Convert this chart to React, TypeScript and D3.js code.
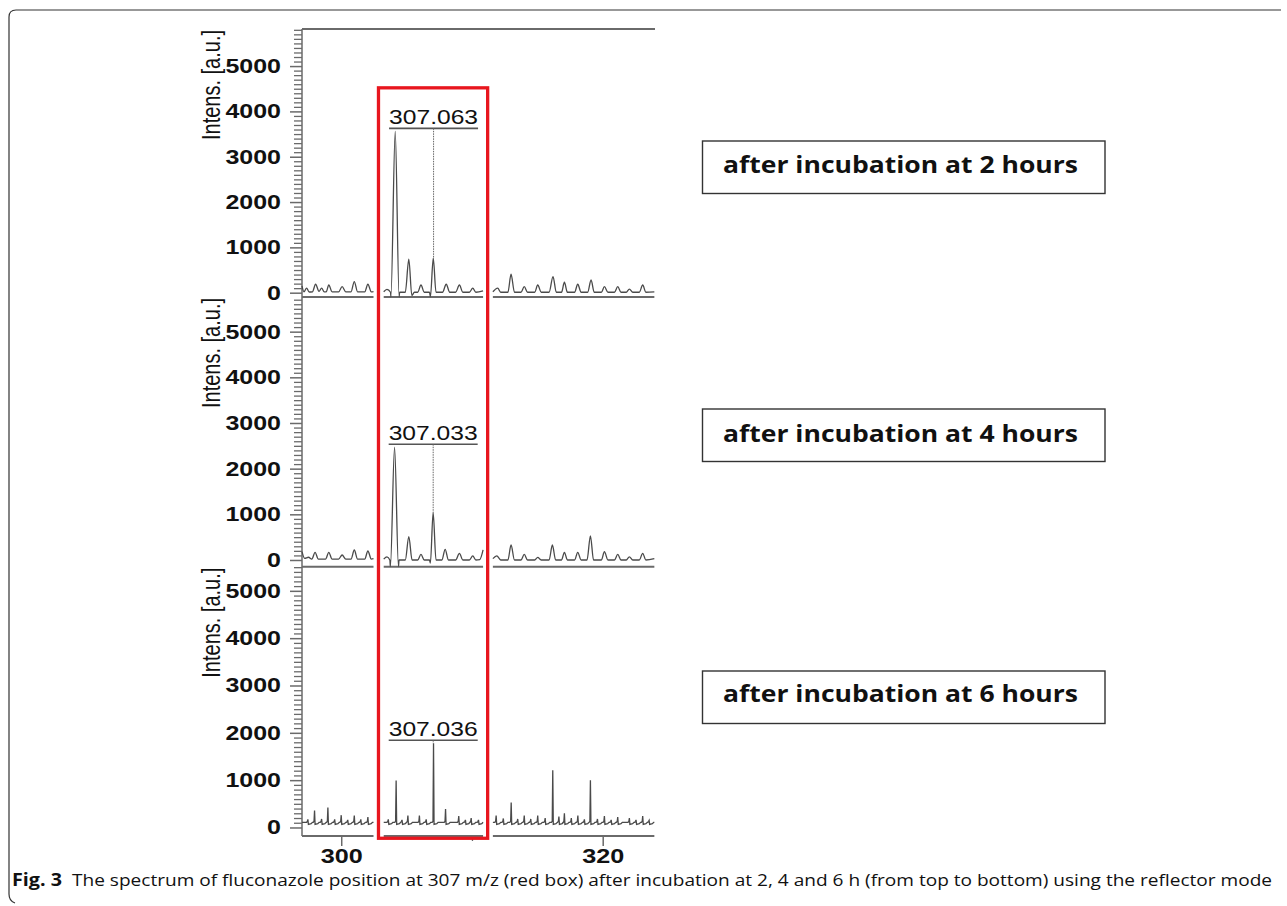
import * as d3 from 'd3'
import React, { useRef, useEffect } from 'react'

// m/z axis
const mzDomain = [297, 324]
const mzTicks = [300, 320]
const mzMinorTicks = [310]
const intensTicks = [0, 1000, 2000, 3000, 4000, 5000]

// the spectrum is cut in three pieces around the red box
const sections = [[297, 302.47], [303.25, 310.85], [311.6, 323.95]]
const boxMz = [302.85, 311.2]

const peakLabels = ['307.063', '307.033', '307.036']
const panelTitles = ['after incubation at 2 hours', 'after incubation at 4 hours', 'after incubation at 6 hours']

// 2 h spectrum, [m/z, intensity]
const spec2h = [
  [297.0, 150], [297.15, 20], [297.35, 100], [297.55, 15], [297.8, 20], [298.04, 186], [298.3, 30], [298.5, 100], [298.7, 20],
  [298.85, 20], [299.05, 170], [299.3, 20], [299.8, 20], [300.07, 133], [300.35, 20], [300.75, 20], [301.0, 243], [301.25, 20],
  [301.8, 20], [302.04, 186], [302.3, 20], [302.47, 25],
  [303.25, 20], [303.5, 75], [303.77, 10], [303.8, -90], [304.13, 3560], [304.43, -90], [304.47, 10], [304.9, 10], [305.17, 740],
  [305.4, -60], [305.6, 10], [305.85, 10], [306.1, 170], [306.35, 10], [306.75, 10], [306.82, -90], [307.04, 760], [307.25, 10],
  [307.75, 10], [308.03, 186], [308.3, 10], [308.75, 10], [309.04, 170], [309.3, 10], [309.8, 10], [310.06, 100], [310.3, 10], [310.85, 40],
  [311.6, 20], [311.97, 100], [312.2, 10], [312.75, 10], [312.99, 407], [313.25, 10], [313.75, 10], [314.0, 133], [314.25, 10],
  [314.8, 10], [315.03, 170], [315.3, 10], [315.9, 10], [316.2, 354], [316.45, 10], [316.85, 10], [317.07, 230], [317.3, 10],
  [317.85, 10], [318.09, 186], [318.35, 10], [318.85, 10], [319.11, 280], [319.35, 10], [319.9, 10], [320.13, 133], [320.4, 10],
  [320.9, 10], [321.15, 133], [321.4, 10], [321.8, 10], [322.04, 80], [322.3, 10], [322.8, 10], [323.06, 170], [323.3, 10], [323.95, 20],
]

// 4 h spectrum
const spec4h = [
  [297.0, 182], [297.2, 36], [297.5, 60], [297.75, 20], [298.0, 168], [298.25, 20], [298.8, 20], [299.05, 168], [299.3, 20],
  [299.8, 20], [300.07, 109], [300.35, 20], [300.75, 20], [301.0, 219], [301.25, 20], [301.8, 20], [302.04, 197], [302.3, 20], [302.47, 30],
  [303.25, 20], [303.5, 70], [303.72, 0], [303.76, -146], [304.08, 2470], [304.38, -146], [304.42, 0], [304.9, 0], [305.17, 510],
  [305.42, 0], [305.85, 0], [306.1, 124], [306.35, 0], [306.75, 0], [306.82, -70], [307.03, 1040], [307.25, 0], [307.7, 0],
  [307.95, 233], [308.2, 0], [308.75, 0], [309.04, 146], [309.3, 0], [309.8, 0], [310.06, 88], [310.3, 0], [310.6, 10], [310.85, 220],
  [311.6, 30], [311.9, 90], [312.2, 0], [312.75, 0], [312.99, 328], [313.25, 0], [313.75, 0], [314.0, 124], [314.25, 0], [314.8, 0],
  [315.03, 56], [315.3, 0], [315.9, 0], [316.15, 328], [316.4, 0], [316.85, 0], [317.07, 168], [317.3, 0], [317.85, 0], [318.09, 168],
  [318.35, 0], [318.8, 0], [319.06, 530], [319.3, 0], [319.9, 0], [320.13, 182], [320.4, 0], [320.9, 0], [321.15, 124], [321.4, 0],
  [321.8, 0], [322.04, 70], [322.3, 0], [322.8, 0], [323.06, 146], [323.3, 0], [323.95, 30],
]

// 6 h spectrum is all sharp spikes: [m/z, height] on a noise floor
const floor6h = 110
const spec6hPeaks = [
  [297.45, 170], [297.96, 360], [298.5, 180], [298.98, 420], [299.5, 170], [300.0, 260], [300.5, 160], [301.0, 254], [301.5, 170], [302.04, 218],
  [303.6, 170], [304.2, 990], [304.65, 160], [305.1, 250], [305.98, 250], [306.5, 170], [307.06, 1780], [307.98, 390], [308.99, 240],
  [309.5, 160], [309.94, 200], [310.5, 160],
  [311.85, 254], [312.4, 190], [313.0, 530], [313.5, 180], [314.0, 254], [314.5, 180], [315.03, 254], [315.6, 200], [316.18, 1210],
  [316.65, 230], [317.07, 300], [317.6, 200], [318.1, 254], [318.6, 170], [319.06, 1000], [319.6, 180], [320.13, 240], [320.65, 160],
  [321.15, 218], [322.04, 200], [322.55, 160], [323.06, 240], [323.55, 150],
]

const W = 1287
const H = 906

// layout of the three stacked panels (pixels) and their intensity ranges
const panels = [
  { top: 29, bottom: 297, domain: [-95, 5818], titleY: 173, boxTop: 141 },
  { top: 297, bottom: 566.7, domain: [-147, 5759], titleY: 442, boxTop: 409 },
  { top: 566.7, bottom: 836, domain: [-180, 5510], titleY: 702, boxTop: 671 },
]

// sharp spike outline for the 6 h trace
const spikeLine = (peaks, [a, b], floor) => {
  const pts = [[a, floor]]
  peaks.filter(p => p[0] > a && p[0] < b).forEach(([m, h]) => {
    pts.push([m - 0.1, floor], [m - 0.04, floor + 20], [m, h], [m + 0.04, floor - 45], [m + 0.25, floor - 30], [m + 0.35, floor])
  })
  pts.push([b, floor])
  return pts
}

export default function App() {
  const svgRef = useRef(null)

  useEffect(() => {
    const svg = d3.select(svgRef.current)
    svg.selectAll('*').remove()

    const axisColor = '#6a6a6a'
    const x = d3.scaleLinear().domain(mzDomain).range([302, 655])

    // outer figure frame (top + left, rounded)
    svg.append('path')
      .attr('d', 'M 15 903 Q 9 901 9 894 V 17 Q 9 10 16 10 H 1281')
      .attr('fill', 'none')
      .attr('stroke', '#333')
      .attr('stroke-width', 1.2)

    const ys = panels.map(p => d3.scaleLinear().domain(p.domain).range([p.bottom, p.top]))
    const traces = [
      sections.map(([a, b]) => spec2h.filter(d => d[0] >= a && d[0] <= b)),
      sections.map(([a, b]) => spec4h.filter(d => d[0] >= a && d[0] <= b)),
      sections.map(s => spikeLine(spec6hPeaks, s, floor6h)),
    ]

    // panel 1 top frame line
    svg.append('line')
      .attr('x1', x(mzDomain[0])).attr('x2', x(mzDomain[1]))
      .attr('y1', panels[0].top).attr('y2', panels[0].top)
      .attr('stroke', axisColor).attr('stroke-width', 2)

    // y axis line
    svg.append('line')
      .attr('x1', x(mzDomain[0])).attr('x2', x(mzDomain[0]))
      .attr('y1', panels[0].top).attr('y2', panels[2].bottom)
      .attr('stroke', axisColor).attr('stroke-width', 1.5)

    panels.forEach((p, i) => {
      const y = ys[i]
      const g = svg.append('g')

      // minor ticks every 100
      const minor = d3.range(0, p.domain[1], 100).filter(v => v % 1000 !== 0)
      g.append('g')
        .attr('transform', `translate(${x(mzDomain[0])},0)`)
        .call(d3.axisLeft(y).tickValues(minor).tickSize(8).tickFormat(() => ''))
        .call(a => a.select('.domain').remove())
        .call(a => a.selectAll('line').attr('stroke', axisColor).attr('stroke-width', 1.3))

      g.append('g')
        .attr('transform', `translate(${x(mzDomain[0])},0)`)
        .call(d3.axisLeft(y).tickValues(intensTicks).tickSize(12).tickPadding(9).tickFormat(d3.format('d')))
        .call(a => a.select('.domain').remove())
        .call(a => a.selectAll('line').attr('stroke', axisColor).attr('stroke-width', 1.5))
        .call(a => a.selectAll('text')
          .attr('fill', '#111')
          .style('font-family', '"Liberation Sans", Arial, sans-serif')
          .style('font-size', '20px')
          .style('font-weight', 'bold')
          .attr('textLength', d => String(d).length * 13.9)
          .attr('lengthAdjust', 'spacingAndGlyphs'))

      // axis title, rotated and stretched like the scan
      g.append('text')
        .attr('transform', `translate(220,${p.top + 1}) scale(1.25,1) rotate(-90)`)
        .attr('text-anchor', 'end')
        .style('font-family', '"Liberation Sans", Arial, sans-serif')
        .style('font-size', '20px')
        .attr('fill', '#111')
        .text('Intens. [a.u.]')

      // broken baseline under each panel
      g.selectAll('line.base')
        .data(sections)
        .join('line')
        .attr('class', 'base')
        .attr('x1', d => x(d[0])).attr('x2', d => x(d[1]))
        .attr('y1', p.bottom).attr('y2', p.bottom)
        .attr('stroke', axisColor).attr('stroke-width', 2)

      // spectrum trace
      const line = d3.line()
        .x(d => x(d[0]))
        .y(d => y(d[1]))
        .curve(i < 2 ? d3.curveMonotoneX : d3.curveLinear)
      g.selectAll('path.trace')
        .data(traces[i])
        .join('path')
        .attr('class', 'trace')
        .attr('d', line)
        .attr('fill', 'none')
        .attr('stroke', '#4a4a4a')
        .attr('stroke-width', 1.3)

      // peak annotation
      const pts = traces[i].flat()
      const inBox = pts.filter(d => d[0] > boxMz[0] && d[0] < boxMz[1])
      const topVal = d3.max(inBox, d => d[1])
      const mz = +peakLabels[i]
      const labelledTop = d3.max(pts.filter(d => Math.abs(d[0] - mz) < 0.15), d => d[1])
      const uy = y(topVal) - 3
      const cx = x(mz)
      g.append('line')
        .attr('x1', cx - 44.5).attr('x2', cx + 44.5)
        .attr('y1', uy).attr('y2', uy)
        .attr('stroke', '#555').attr('stroke-width', 1.6)
      g.append('line')
        .attr('x1', cx).attr('x2', cx)
        .attr('y1', uy).attr('y2', y(labelledTop))
        .attr('stroke', '#666').attr('stroke-width', 1)
        .attr('stroke-dasharray', '1.5,1')
      g.append('text')
        .attr('x', cx).attr('y', uy - 4)
        .attr('text-anchor', 'middle')
        .style('font-family', '"Liberation Sans", Arial, sans-serif')
        .style('font-size', '21px')
        .attr('fill', '#111')
        .attr('textLength', 89)
        .attr('lengthAdjust', 'spacingAndGlyphs')
        .text(peakLabels[i])

      // boxed panel title on the right
      g.append('rect')
        .attr('x', 702.5).attr('y', p.boxTop)
        .attr('width', 402.5).attr('height', 52.5)
        .attr('fill', 'none')
        .attr('stroke', '#333').attr('stroke-width', 1.4)
      g.append('text')
        .attr('x', 723).attr('y', p.titleY)
        .style('font-family', '"Open Sans", "DejaVu Sans", sans-serif')
        .style('font-size', '24px')
        .style('font-weight', 'bold')
        .attr('fill', '#111')
        .attr('textLength', 355)
        .attr('lengthAdjust', 'spacingAndGlyphs')
        .text(panelTitles[i])
    })

    // x axis ticks and labels at the bottom
    const xb = panels[2].bottom
    svg.append('g')
      .attr('transform', `translate(0,${xb})`)
      .call(d3.axisBottom(x).tickValues(mzMinorTicks).tickSize(5).tickFormat(() => ''))
      .call(a => a.select('.domain').remove())
      .call(a => a.selectAll('line').attr('stroke', axisColor).attr('stroke-width', 1.3))
    svg.append('g')
      .attr('transform', `translate(0,${xb})`)
      .call(d3.axisBottom(x).tickValues(mzTicks).tickSize(10).tickPadding(3).tickFormat(d3.format('d')))
      .call(a => a.select('.domain').remove())
      .call(a => a.selectAll('line').attr('stroke', axisColor).attr('stroke-width', 1.5))
      .call(a => a.selectAll('text')
        .attr('fill', '#111')
        .style('font-family', '"Liberation Sans", Arial, sans-serif')
        .style('font-size', '20px')
        .style('font-weight', 'bold')
        .attr('textLength', 42)
        .attr('lengthAdjust', 'spacingAndGlyphs'))

    // red box around the fluconazole peak
    svg.append('rect')
      .attr('x', x(boxMz[0]))
      .attr('y', ys[0](4520))
      .attr('width', x(boxMz[1]) - x(boxMz[0]))
      .attr('height', ys[2](-228) - ys[0](4520))
      .attr('fill', 'none')
      .attr('stroke', '#e8161e')
      .attr('stroke-width', 3.3)

    // caption
    const cap = svg.append('text')
      .attr('y', 886)
      .style('font-family', '"Open Sans", "Liberation Sans", sans-serif')
      .style('font-size', '17px')
      .attr('fill', '#111')
    cap.append('tspan')
      .attr('x', 12)
      .style('font-weight', 'bold')
      .attr('textLength', 50)
      .attr('lengthAdjust', 'spacingAndGlyphs')
      .text('Fig. 3')
    cap.append('tspan')
      .attr('x', 72)
      .attr('textLength', 1200)
      .attr('lengthAdjust', 'spacingAndGlyphs')
      .text('The spectrum of fluconazole position at 307 m/z (red box) after incubation at 2, 4 and 6 h (from top to bottom) using the reflector mode')
  }, [])

  return (
    <svg ref={svgRef} width={W} height={H} style={{ position: 'absolute', left: 0, top: 0, background: '#fff' }}></svg>
  )
}
